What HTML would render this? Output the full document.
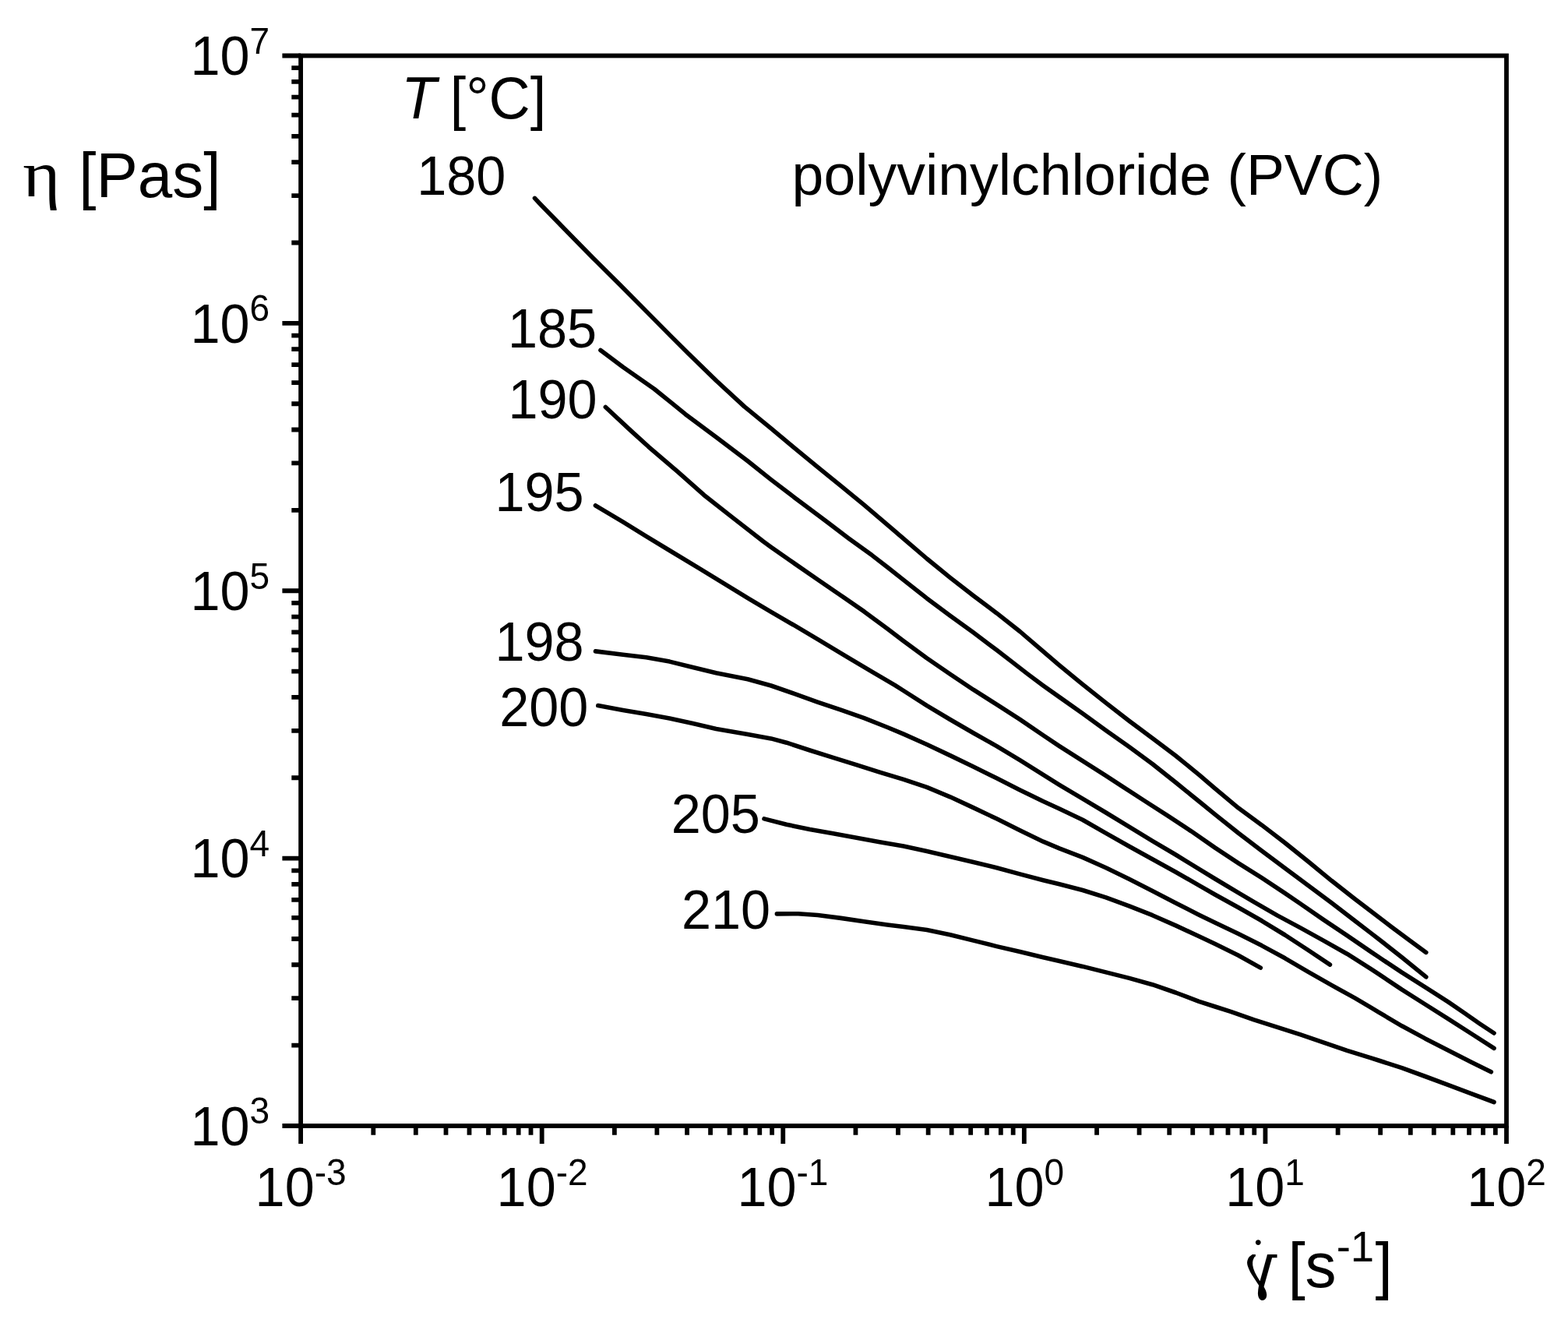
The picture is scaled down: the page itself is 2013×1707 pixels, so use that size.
<!DOCTYPE html>
<html lang="en"><head><meta charset="utf-8"><title>Viscosity of polyvinylchloride (PVC)</title>
<style>html,body{margin:0;padding:0;background:#fff}body{width:2013px;height:1707px;overflow:hidden}svg{display:block}text{font-family:"Liberation Sans",sans-serif;fill:#000}.gr{font-family:"DejaVu Serif","Liberation Serif",serif}.ser{font-family:"Liberation Serif","DejaVu Serif",serif}.ax{stroke:#000;stroke-width:5.8;fill:none;stroke-linecap:butt}.cv{stroke:#000;stroke-width:5.6;fill:none;stroke-linecap:round;stroke-linejoin:round}</style></head><body>
<svg width="2013" height="1707" viewBox="0 0 2013 1707">
<rect x="0" y="0" width="2013" height="1707" fill="#fff"/>
<g class="ax">
<rect x="386.10" y="71.50" width="1547.90" height="1373.50"/>
<path d="M362.40 1445.00H386.10M374.30 1341.63H386.10M374.30 1281.17H386.10M374.30 1238.27H386.10M374.30 1204.99H386.10M374.30 1177.80H386.10M374.30 1154.81H386.10M374.30 1134.90H386.10M374.30 1117.34H386.10M362.40 1101.62H386.10M374.30 998.26H386.10M374.30 937.79H386.10M374.30 894.89H386.10M374.30 861.62H386.10M374.30 834.43H386.10M374.30 811.44H386.10M374.30 791.53H386.10M374.30 773.96H386.10M362.40 758.25H386.10M374.30 654.88H386.10M374.30 594.42H386.10M374.30 551.52H386.10M374.30 518.24H386.10M374.30 491.05H386.10M374.30 468.06H386.10M374.30 448.15H386.10M374.30 430.59H386.10M362.40 414.88H386.10M374.30 311.51H386.10M374.30 251.04H386.10M374.30 208.14H386.10M374.30 174.87H386.10M374.30 147.68H386.10M374.30 124.69H386.10M374.30 104.78H386.10M374.30 87.21H386.10M362.40 71.50H386.10M386.10 1445.00V1468.00M479.29 1445.00V1456.80M533.81 1445.00V1456.80M572.49 1445.00V1456.80M602.49 1445.00V1456.80M627.00 1445.00V1456.80M647.73 1445.00V1456.80M665.68 1445.00V1456.80M681.51 1445.00V1456.80M695.68 1445.00V1468.00M788.87 1445.00V1456.80M843.39 1445.00V1456.80M882.07 1445.00V1456.80M912.07 1445.00V1456.80M936.58 1445.00V1456.80M957.31 1445.00V1456.80M975.26 1445.00V1456.80M991.09 1445.00V1456.80M1005.26 1445.00V1468.00M1098.45 1445.00V1456.80M1152.97 1445.00V1456.80M1191.65 1445.00V1456.80M1221.65 1445.00V1456.80M1246.16 1445.00V1456.80M1266.89 1445.00V1456.80M1284.84 1445.00V1456.80M1300.67 1445.00V1456.80M1314.84 1445.00V1468.00M1408.03 1445.00V1456.80M1462.55 1445.00V1456.80M1501.23 1445.00V1456.80M1531.23 1445.00V1456.80M1555.74 1445.00V1456.80M1576.47 1445.00V1456.80M1594.42 1445.00V1456.80M1610.25 1445.00V1456.80M1624.42 1445.00V1468.00M1717.61 1445.00V1456.80M1772.13 1445.00V1456.80M1810.81 1445.00V1456.80M1840.81 1445.00V1456.80M1865.32 1445.00V1456.80M1886.05 1445.00V1456.80M1904.00 1445.00V1456.80M1919.83 1445.00V1456.80M1934.00 1445.00V1468.00"/>
</g>
<g class="cv">
<polyline points="686.5,254.4 694.6,263.0 730.0,299.3 761.1,331.0 780.0,349.8 794.4,364.1 830.0,399.9 861.5,431.6 884.0,454.0 920.0,489.0 955.7,521.9 989.9,549.8 1019.8,574.8 1049.6,599.4 1079.5,623.7 1109.4,648.2 1144.3,677.8 1160.0,691.3 1189.9,717.0 1219.8,741.3 1249.6,764.5 1279.5,786.9 1309.4,810.5 1339.3,836.2 1360.0,853.8 1389.9,878.3 1419.8,902.1 1449.6,925.3 1479.5,947.6 1509.4,970.0 1539.3,994.3 1560.0,1012.1 1589.9,1037.1 1619.8,1058.9 1649.6,1081.7 1679.5,1105.8 1709.4,1130.3 1739.3,1153.7 1760.0,1169.5 1786.8,1189.9 1809.7,1207.0 1830.8,1222.4"/>
<polyline points="771.0,449.5 800.0,471.3 840.0,499.3 860.0,515.4 880.0,531.7 920.0,561.4 960.0,591.8 989.9,615.6 1019.8,638.4 1049.6,660.7 1061.6,669.8 1089.5,690.9 1119.4,712.6 1139.3,728.0 1160.0,744.4 1189.9,767.9 1219.8,790.3 1249.6,811.8 1279.5,834.3 1299.4,849.6 1319.4,865.1 1339.3,879.9 1360.0,894.6 1389.9,915.7 1419.8,937.4 1449.6,958.5 1479.5,980.5 1509.4,1004.3 1539.3,1028.5 1560.0,1045.3 1589.9,1069.3 1619.8,1091.9 1649.6,1114.3 1679.5,1136.5 1709.4,1158.7 1739.3,1181.7 1760.0,1197.6 1769.9,1205.2 1799.8,1228.7 1830.8,1253.9"/>
<polyline points="777.4,522.5 810.0,552.9 832.5,573.3 870.0,605.4 903.6,635.2 940.0,663.9 980.0,695.0 989.9,702.2 1019.8,723.1 1049.6,743.7 1079.5,764.2 1109.4,784.9 1139.3,807.0 1160.0,822.7 1189.9,844.7 1219.8,865.2 1249.6,885.2 1279.5,904.1 1309.4,923.4 1339.3,943.8 1360.0,957.6 1389.9,976.6 1419.8,995.7 1439.7,1008.6 1469.6,1028.0 1499.4,1047.1 1529.3,1066.8 1560.0,1088.1 1589.9,1107.8 1619.8,1126.7 1649.6,1146.3 1669.6,1160.0 1699.4,1180.6 1729.3,1200.6 1760.0,1221.6 1769.9,1228.3 1799.8,1248.2 1824.7,1263.8 1859.5,1286.1 1879.4,1299.7 1889.4,1306.8 1899.4,1313.7 1918.0,1326.0"/>
<polyline points="764.5,648.8 799.8,669.8 829.7,688.4 859.6,706.5 897.5,729.3 960.0,767.6 989.9,785.4 1019.8,802.7 1049.6,820.3 1079.5,838.3 1089.5,844.4 1119.4,862.1 1149.2,879.7 1160.0,886.5 1189.9,905.7 1219.8,923.5 1249.6,940.7 1279.5,957.6 1309.4,975.7 1329.3,988.1 1360.0,1007.3 1389.9,1025.2 1419.8,1043.0 1449.6,1061.1 1479.5,1079.3 1509.4,1097.0 1539.3,1115.3 1560.0,1128.0 1589.9,1145.9 1609.8,1157.6 1639.7,1174.9 1669.6,1190.9 1699.4,1207.4 1729.3,1224.2 1760.0,1243.7 1769.9,1250.2 1799.8,1270.2 1829.6,1289.0 1859.5,1307.9 1889.4,1327.0 1918.0,1345.4"/>
<polyline points="764.5,835.9 799.8,840.2 829.7,843.7 859.6,849.1 889.5,856.5 919.4,863.7 960.0,871.7 989.9,880.0 1019.8,890.3 1049.6,901.1 1079.5,911.2 1109.4,921.7 1139.3,933.5 1160.0,942.2 1189.9,955.5 1219.8,969.6 1249.6,983.9 1279.5,998.8 1309.4,1013.9 1339.3,1028.5 1360.0,1038.0 1389.9,1052.3 1419.8,1069.4 1449.6,1086.3 1479.5,1102.8 1509.4,1119.2 1539.3,1136.4 1560.0,1148.2 1589.9,1164.7 1619.8,1181.8 1649.6,1200.0 1679.5,1219.5 1707.4,1238.1"/>
<polyline points="767.8,905.6 799.8,911.5 829.7,916.5 859.6,922.0 889.5,928.5 919.4,935.4 960.0,942.6 989.9,947.9 1009.8,953.2 1039.7,963.0 1069.6,972.3 1099.4,981.6 1129.3,991.2 1160.0,1000.4 1189.9,1010.4 1219.8,1022.8 1249.6,1036.6 1279.5,1050.8 1309.4,1065.8 1339.3,1080.2 1360.0,1088.9 1389.9,1100.4 1419.8,1113.8 1449.6,1128.3 1479.5,1143.4 1509.4,1159.0 1539.3,1174.2 1560.0,1184.2 1589.9,1198.5 1619.8,1213.6 1649.6,1229.8 1679.5,1247.4 1709.4,1264.4 1739.3,1280.9 1760.0,1293.1 1769.9,1299.1 1799.8,1316.8 1829.6,1332.9 1859.5,1348.2 1889.4,1363.5 1914.3,1375.8"/>
<polyline points="981.0,1050.9 1009.8,1058.3 1039.7,1064.4 1069.6,1069.8 1099.5,1075.3 1129.4,1080.7 1160.0,1086.1 1189.9,1092.5 1219.8,1099.5 1249.6,1106.5 1279.5,1113.8 1309.4,1121.9 1339.3,1129.7 1360.0,1134.8 1389.9,1142.5 1419.8,1151.9 1449.6,1162.9 1479.5,1174.7 1509.4,1187.9 1539.3,1201.8 1560.0,1211.5 1589.9,1226.3 1618.3,1242.1"/>
<polyline points="997.4,1172.9 1024.8,1172.7 1049.7,1174.5 1079.6,1178.4 1109.4,1182.8 1139.3,1186.9 1160.0,1189.5 1189.9,1193.6 1219.8,1199.7 1249.6,1207.1 1279.5,1214.6 1309.4,1221.6 1339.3,1228.8 1360.0,1233.6 1389.9,1240.4 1419.8,1247.9 1449.6,1255.4 1479.5,1263.7 1509.4,1274.0 1539.3,1285.3 1560.0,1292.0 1580.0,1298.4 1609.9,1308.8 1639.8,1318.4 1669.6,1327.9 1699.5,1338.1 1729.4,1348.3 1759.3,1357.7 1769.9,1361.0 1799.8,1370.6 1829.6,1381.5 1859.5,1392.6 1889.4,1403.9 1918.0,1414.5"/>
</g>
<g>
<text transform="translate(244.40 1469.80) scale(1 1.04)" font-size="68.4">10<tspan font-size="46.0" dy="-26.44">3</tspan></text>
<text transform="translate(244.40 1126.42) scale(1 1.04)" font-size="68.4">10<tspan font-size="46.0" dy="-26.44">4</tspan></text>
<text transform="translate(244.40 783.05) scale(1 1.04)" font-size="68.4">10<tspan font-size="46.0" dy="-26.44">5</tspan></text>
<text transform="translate(244.40 439.68) scale(1 1.04)" font-size="68.4">10<tspan font-size="46.0" dy="-26.44">6</tspan></text>
<text transform="translate(244.40 96.30) scale(1 1.04)" font-size="68.4">10<tspan font-size="46.0" dy="-26.44">7</tspan></text>
<text transform="translate(327.60 1548.20) scale(1 1.04)" font-size="68.4">10<tspan font-size="46.0" dy="-26.44">-3</tspan></text>
<text transform="translate(637.60 1548.20) scale(1 1.04)" font-size="68.4">10<tspan font-size="46.0" dy="-26.44">-2</tspan></text>
<text transform="translate(946.40 1548.20) scale(1 1.04)" font-size="68.4">10<tspan font-size="46.0" dy="-26.44">-1</tspan></text>
<text transform="translate(1264.40 1548.20) scale(1 1.04)" font-size="68.4">10<tspan font-size="46.0" dy="-26.44">0</tspan></text>
<text transform="translate(1573.20 1548.20) scale(1 1.04)" font-size="68.4">10<tspan font-size="46.0" dy="-26.44">1</tspan></text>
<text transform="translate(1883.30 1548.20) scale(1 1.04)" font-size="68.4">10<tspan font-size="46.0" dy="-26.44">2</tspan></text>
</g>
<g>
<text transform="translate(535.30 250.20) scale(1 1.04)" font-size="68.4">180</text>
<text transform="translate(652.00 445.90) scale(1 1.04)" font-size="68.4">185</text>
<text transform="translate(652.40 536.90) scale(1 1.04)" font-size="68.4">190</text>
<text transform="translate(635.50 655.90) scale(1 1.04)" font-size="68.4">195</text>
<text transform="translate(635.50 848.00) scale(1 1.04)" font-size="68.4">198</text>
<text transform="translate(641.20 931.90) scale(1 1.04)" font-size="68.4">200</text>
<text transform="translate(861.80 1069.20) scale(1 1.04)" font-size="68.4">205</text>
<text transform="translate(875.00 1192.20) scale(1 1.04)" font-size="68.4">210</text>
</g>
<text x="1016.60" y="250.00" font-size="73.4">polyvinylchloride (PVC)</text>
<text transform="translate(515.30 152.00) scale(1 1.04)" font-size="73.6" font-style="italic">T</text>
<text transform="translate(577.75 152.00) scale(1 1.02)" font-size="73.6">[°C]</text>
<text class="ser" transform="translate(29.36 252.30) scale(1.1 1)" font-size="83.8">η</text>
<text transform="translate(101.20 253.00) scale(1 1.02)" font-size="80">[Pas]</text>
<text class="gr" transform="translate(1642.32 1652.00) scale(-0.94 1)" font-size="80.0">γ</text>
<text class="gr" x="1600.30" y="1637.44" font-size="60.0">˙</text>
<text transform="translate(1653.40 1652.00) scale(1 1.02)" font-size="80">[s<tspan font-size="54.5" dy="-32.35">-1</tspan><tspan dy="32.35" dx="1.5">]</tspan></text>
</svg></body></html>
